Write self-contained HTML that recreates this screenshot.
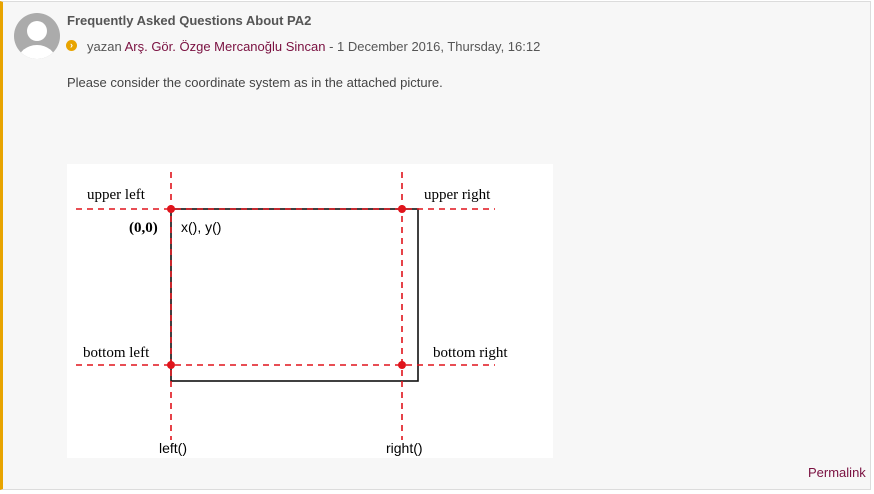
<!DOCTYPE html>
<html><head><meta charset="utf-8"><style>
body{margin:0;width:874px;height:494px;background:#fff;font-family:"Liberation Sans","DejaVu Sans",sans-serif;overflow:hidden}
#post{position:absolute;left:0;top:1px;width:871px;height:489px;background:#f7f7f7;border:1px solid #dcdcdc;border-left:3px solid #e8a400;box-sizing:border-box}
.t{position:absolute;white-space:nowrap}
</style></head><body>
<div id="post">
<svg class="t" style="left:9px;top:9px" width="50" height="50">
<defs><clipPath id="c"><circle cx="25" cy="25" r="23"/></clipPath></defs>
<circle cx="25" cy="25" r="23" fill="#ababab"/>
<g clip-path="url(#c)" fill="#fff"><circle cx="25" cy="20" r="10"/><ellipse cx="25" cy="50" rx="19" ry="16"/></g>
</svg>
<div class="t" style="left:64px;top:11px;font-size:13px;font-weight:bold;color:#555">Frequently Asked Questions About PA2</div>
<div class="t" style="left:63px;top:38px;width:11px;height:11px;border-radius:50%;background:#e8a400;color:#fff;font-size:9px;line-height:11px;text-align:center;font-weight:bold">›</div>
<div class="t" style="left:84px;top:37px;font-size:13px;color:#555">yazan <span style="color:#7a1040">Arş. Gör. Özge Mercanoğlu Sincan</span> - 1 December 2016, Thursday, 16:12</div>
<div class="t" style="left:64px;top:73px;font-size:13px;color:#444">Please consider the coordinate system as in the attached picture.</div>
<div class="t" style="left:805px;top:463px;font-size:13px;color:#7a1040">Permalink</div>
</div>
<svg id="fig" style="position:absolute;left:67px;top:164px" width="486" height="294"></svg>
<script>
const xs=[104,335]; // left(), right() x positions in figure
const ys=[45,201];  // upper, bottom y positions
const ns='http://www.w3.org/2000/svg',s=document.getElementById('fig');
function el(t,a,txt){const e=document.createElementNS(ns,t);for(const k in a)e.setAttribute(k,a[k]);if(txt)e.textContent=txt;s.appendChild(e);return e;}
let bg=el('rect',{x:0,y:0,width:486,height:294,fill:'#fff'});


let r=el('rect',{x:xs[0],y:ys[0],width:351-xs[0],height:217-ys[0],fill:'none',stroke:'#111','stroke-width':1.6});


const dash={stroke:'#e0141c','stroke-width':1.6,'stroke-dasharray':'6,5',fill:'none'};
xs.forEach((x,i)=>{let l=el('line',Object.assign({x1:x,y1:8,x2:x,y2:276},dash));

});
ys.forEach((y,i)=>{let l=el('line',Object.assign({x1:9,y1:y,x2:428,y2:y},dash));

});
xs.forEach(x=>ys.forEach(y=>{let c=el('circle',{cx:x,cy:y,r:4,fill:'#e0141c'});

}));
const serif='font-family:"Liberation Serif",serif;font-size:15px;fill:#000';
const sans='font-family:"Liberation Sans",sans-serif;font-size:14px;fill:#000';
const labels=[['upper left',20,ys[0]-10,serif,'upper-left-label'],['upper right',357,ys[0]-10,serif,'upper-right-label'],['bottom left',16,ys[1]-8,serif,'bottom-left-label'],['bottom right',366,ys[1]-8,serif,'bottom-right-label'],['x(), y()',114,ys[0]+23,sans,'origin-functions-label'],['left()',92,289,sans,'left-label'],['right()',319,289,sans,'right-label']];
labels.forEach(L=>{let t=el('text',{x:L[1],y:L[2],style:L[3]},L[0]);

});
let o=el('text',{x:62,y:ys[0]+23,style:serif+';font-weight:bold'},'(0,0)');


</script>
</body></html>
